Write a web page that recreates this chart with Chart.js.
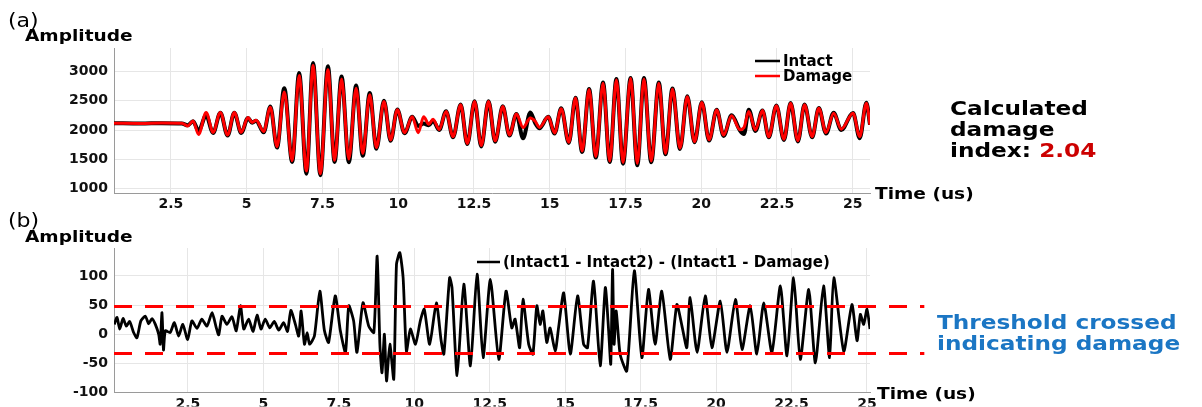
<!DOCTYPE html>
<html>
<head>
<meta charset="utf-8">
<script src="https://cdn.jsdelivr.net/npm/chart.js@4.4.0/dist/chart.umd.min.js"></script>
<style>
  body { margin: 0; background: #fff; }
  #wrap { position: relative; width: 1202px; height: 407px; overflow: hidden; font-family: 'DejaVu Sans', sans-serif; }
  canvas { position: absolute; left: 0; }
  .txt { position: absolute; white-space: nowrap; line-height: 1; font-weight: bold; color: #000;
         transform-origin: 0 50%; transform: translateY(-50%) scaleX(1.16); }
</style>
</head>
<body>
<div id="wrap">
  <canvas id="topChart" width="1202" height="215" style="top:0"></canvas>
  <canvas id="bottomChart" width="1202" height="207" style="top:200px"></canvas>

  <div class="txt" style="left:8px;top:20px;font-size:19px;font-weight:normal">(a)</div>
  <div class="txt" style="left:25px;top:36px;font-size:16px">Amplitude</div>
  <div class="txt" style="left:875px;top:194px;font-size:16px">Time (us)</div>
  <div class="txt" style="left:950px;top:108px;font-size:20px">Calculated</div>
  <div class="txt" style="left:950px;top:129px;font-size:20px">damage</div>
  <div class="txt" style="left:950px;top:150px;font-size:20px">index: <span style="color:#cc0000">2.04</span></div>

  <div class="txt" style="left:8px;top:220px;font-size:19px;font-weight:normal">(b)</div>
  <div class="txt" style="left:25px;top:237px;font-size:16px">Amplitude</div>
  <div class="txt" style="left:877px;top:394px;font-size:16px">Time (us)</div>
  <div class="txt" style="left:937px;top:322px;font-size:20px;color:#1b76c4">Threshold crossed</div>
  <div class="txt" style="left:937px;top:343px;font-size:20px;color:#1b76c4">indicating damage</div>
</div>

<script>
// (a) extrema of the two received waveforms, time in us
const timeA = [
  0.62, 1.5, 2.2, 2.86, 3.05, 3.23, 3.41, 3.66, 3.89, 4.13,
  4.37, 4.59, 4.82, 5.04, 5.18, 5.31, 5.56, 5.78, 6.00, 6.24,
  6.50, 6.73, 6.97, 7.19, 7.43, 7.68, 7.90, 8.13, 8.37, 8.61,
  8.83, 9.06, 9.28, 9.53, 9.75, 9.97, 10.21, 10.46, 10.66, 10.84,
  11.01, 11.15, 11.35, 11.58, 11.81, 12.06, 12.28, 12.52, 12.74, 12.98,
  13.20, 13.45, 13.67, 13.90, 14.12, 14.36, 14.52, 14.66, 14.95, 15.16,
  15.38, 15.63, 15.85, 16.07, 16.30, 16.52, 16.76, 16.98, 17.20, 17.42,
  17.67, 17.89, 18.11, 18.35, 18.60, 18.82, 19.05, 19.30, 19.54, 19.78,
  20.02, 20.26, 20.51, 20.74, 21.00, 21.28, 21.41, 21.57, 21.79, 22.02,
  22.23, 22.48, 22.73, 22.95, 23.19, 23.41, 23.66, 23.88, 24.12, 24.37,
  24.62, 25.01, 25.23, 25.45, 25.57
];
const intactA = [
  2116, 2111, 2117, 2113, 2080, 2150, 1985, 2250, 1950, 2295,
  1905, 2295, 1950, 2205, 2125, 2160, 1960, 2400, 1700, 2715,
  1455, 2975, 1255, 3145, 1230, 3090, 1455, 2915, 1450, 2760,
  1560, 2630, 1680, 2500, 1815, 2350, 1945, 2225, 2070, 2110,
  2080, 2160, 2000, 2320, 1875, 2435, 1760, 2490, 1720, 2490,
  1800, 2405, 1905, 2275, 1860, 2300, 2120, 2030, 2225, 1940,
  2370, 1780, 2550, 1625, 2700, 1530, 2810, 1455, 2870, 1425,
  2890, 1400, 2890, 1450, 2810, 1585, 2710, 1675, 2575, 1790,
  2475, 1820, 2345, 1900, 2250, 1990, 1930, 2345, 1985, 2335,
  1875, 2420, 1830, 2460, 1805, 2435, 1875, 2375, 1940, 2295,
  2000, 2290, 1860, 2465, 2090
];
const damageA = [
  2116, 2113, 2119, 2115, 2070, 2155, 1925, 2300, 1960, 2300,
  1915, 2300, 1960, 2215, 2130, 2165, 1975, 2390, 1715, 2650,
  1475, 2930, 1300, 3100, 1255, 3030, 1485, 2870, 1505, 2715,
  1600, 2600, 1700, 2485, 1830, 2345, 1955, 2225, 1955, 2225,
  2100, 2185, 2010, 2315, 1885, 2430, 1770, 2487, 1735, 2487,
  1815, 2400, 1915, 2272, 2045, 2205, 2150, 2045, 2225, 1950,
  2365, 1790, 2545, 1640, 2690, 1545, 2800, 1470, 2860, 1445,
  2885, 1430, 2870, 1470, 2800, 1600, 2700, 1690, 2570, 1800,
  2470, 1835, 2340, 1915, 2245, 2005, 2040, 2315, 2000, 2333,
  1887, 2415, 1842, 2459, 1818, 2430, 1887, 2373, 1956, 2288,
  2014, 2288, 1887, 2459, 2090
];

// (b) difference signal
const timeB = [
  0.06, 0.15, 0.24, 0.35, 0.46, 0.57, 0.70, 0.81, 0.94, 1.09,
  1.20, 1.31, 1.42, 1.53, 1.58, 1.64, 1.69, 1.75, 1.91, 2.05,
  2.19, 2.33, 2.49, 2.63, 2.80, 2.96, 3.13, 3.30, 3.44, 3.52,
  3.63, 3.79, 3.96, 4.10, 4.24, 4.35, 4.51, 4.66, 4.79, 4.92,
  5.06, 5.21, 5.36, 5.51, 5.67, 5.80, 5.91, 6.06, 6.17, 6.25,
  6.36, 6.45, 6.53, 6.69, 6.87, 7.02, 7.16, 7.38, 7.55, 7.72,
  7.83, 7.99, 8.10, 8.30, 8.49, 8.66, 8.77, 8.86, 8.93, 9.01,
  9.08, 9.19, 9.32, 9.41, 9.52, 9.63, 9.74, 9.87, 10.04, 10.20,
  10.33, 10.51, 10.73, 10.89, 10.98, 11.17, 11.25, 11.42, 11.64, 11.86,
  12.08, 12.28, 12.52, 12.80, 13.04, 13.23, 13.34, 13.49, 13.60, 13.79,
  13.93, 14.06, 14.17, 14.26, 14.39, 14.50, 14.67, 14.78, 14.95, 15.17,
  15.41, 15.61, 15.74, 15.94, 16.16, 16.33, 16.44, 16.51, 16.57, 16.62,
  16.69, 16.82, 17.04, 17.29, 17.54, 17.76, 17.98, 18.20, 18.48, 18.70,
  18.87, 19.03, 19.14, 19.37, 19.64, 19.86, 20.14, 20.36, 20.64, 20.86,
  21.13, 21.35, 21.58, 21.85, 22.13, 22.35, 22.57, 22.79, 23.07, 23.29,
  23.56, 23.76, 23.90, 24.23, 24.50, 24.67, 24.78, 24.89, 25.00, 25.10
];
const diffB = [
  17, 29, 9, 27, 14, 22, 3, -6, 23, 31,
  18, 27, 17, 0, -17, 37, -27, 6, 3, 20,
  -3, 17, -9, 23, 10, 26, 14, 37, 11, -1,
  31, 17, 30, 6, 49, 9, 26, 5, 33, 9,
  26, 11, 22, 7, 20, 5, 41, 17, -3, 40,
  -17, 3, -17, -3, 74, 7, -14, 66, 6, -31,
  49, 23, -31, 54, 14, 3, 134, -17, -66, 0,
  -80, -17, -77, 120, 140, 97, -29, 9, -17, 23,
  43, -17, 54, -11, -34, 97, 80, -71, 86, -54,
  103, -40, 94, -43, 74, 11, 26, -23, 60, -17,
  -34, 49, 17, 40, -14, 11, -29, 11, 71, -34,
  66, -17, -23, 91, -54, 80, 6, -51, 111, -17,
  40, -34, -63, 109, -40, 77, -17, 74, -43, 51,
  14, -23, 63, -31, 66, -23, 57, -31, 60, -26,
  49, -34, 54, -31, 83, -37, 97, -43, 77, -49,
  83, -40, 97, -29, 51, -11, 34, 17, 43, 9
];
const thresholds = [47.5, -33];
const thresholdSpan = [0.05, 26.9];

const timeTicks = [2.5, 5, 7.5, 10, 12.5, 15, 17.5, 20, 22.5, 25];
const ampTicksA = [1000, 1500, 2000, 2500, 3000];
const ampTicksB = [-100, -50, 0, 50, 100];

Chart.defaults.font.family = "'DejaVu Sans', sans-serif";
Chart.defaults.color = '#111';

const pts = (xs, ys) => xs.map((x, i) => ({ x: x, y: ys[i] }));

// legend drawn inside the plot, matlab style
const inlineLegend = {
  id: 'inlineLegend',
  afterDraw(chart, args, opts) {
    const ctx = chart.ctx;
    ctx.save();
    ctx.font = 'bold 15px "DejaVu Sans"';
    ctx.textBaseline = 'middle';
    let row = 0;
    chart.data.datasets.forEach(ds => {
      if (!ds.label) return;
      const y = opts.y + row * 15;
      ctx.strokeStyle = ds.borderColor;
      ctx.lineWidth = 2.5;
      ctx.beginPath();
      ctx.moveTo(opts.x, y);
      ctx.lineTo(opts.x + opts.len, y);
      ctx.stroke();
      ctx.fillStyle = '#000';
      ctx.fillText(ds.label, opts.x + opts.len + 3, y + 1);
      row++;
    });
    ctx.restore();
  }
};

function axes(xMin, xMax, yMin, yMax, yTicks, xHeight) {
  const grid = { color: '#e6e6e6', drawTicks: false };
  const border = { color: '#9a9a9a', width: 1 };
  const tickFont = { size: 14, weight: 'bold' };
  return {
    x: {
      type: 'linear', min: xMin, max: xMax, grid: grid, border: border,
      afterBuildTicks: s => { s.ticks = timeTicks.map(v => ({ value: v })); },
      afterFit: s => { s.height = xHeight; },
      ticks: { font: tickFont, padding: 3, maxRotation: 0, callback: v => String(v) }
    },
    y: {
      min: yMin, max: yMax, grid: grid, border: border,
      afterBuildTicks: s => { s.ticks = yTicks.map(v => ({ value: v })); },
      afterFit: s => { s.width = 114; },
      ticks: { font: tickFont, padding: 6, callback: v => String(v) }
    }
  };
}

new Chart(document.getElementById('topChart'), {
  type: 'line',
  data: {
    datasets: [
      { label: 'Intact', data: pts(timeA, intactA), borderColor: '#000000', borderWidth: 4, order: 2 },
      { label: 'Damage', data: pts(timeA, damageA), borderColor: '#ff0000', borderWidth: 3, order: 1 }
    ]
  },
  options: {
    responsive: false,
    animation: false,
    devicePixelRatio: 1,
    layout: { padding: { left: 0, top: 48, right: 332, bottom: 0 } },
    elements: { point: { radius: 0 }, line: { cubicInterpolationMode: 'monotone' } },
    scales: axes(0.62, 25.57, 925, 3400, ampTicksA, 22),
    plugins: {
      legend: { display: false },
      tooltip: { enabled: false },
      inlineLegend: { x: 755, y: 61, len: 25 }
    }
  },
  plugins: [inlineLegend]
});

new Chart(document.getElementById('bottomChart'), {
  type: 'line',
  data: {
    datasets: [
      { label: '(Intact1 - Intact2) - (Intact1 - Damage)', data: pts(timeB, diffB),
        borderColor: '#000000', borderWidth: 2.8, tension: 0.2, order: 2 },
      ...thresholds.map(th => ({
        label: '', data: pts(thresholdSpan, [th, th]), borderColor: '#ff0000',
        borderWidth: 3, borderDash: [18, 13], clip: false, order: 1
      }))
    ]
  },
  options: {
    responsive: false,
    animation: false,
    devicePixelRatio: 1,
    layout: { padding: { left: 0, top: 48, right: 332, bottom: 0 } },
    elements: { point: { radius: 0 } },
    scales: axes(0.05, 25.1, -100, 148, ampTicksB, 14),
    plugins: {
      legend: { display: false },
      tooltip: { enabled: false },
      inlineLegend: { x: 477, y: 62, len: 23 }
    }
  },
  plugins: [inlineLegend]
});
</script>
</body>
</html>
